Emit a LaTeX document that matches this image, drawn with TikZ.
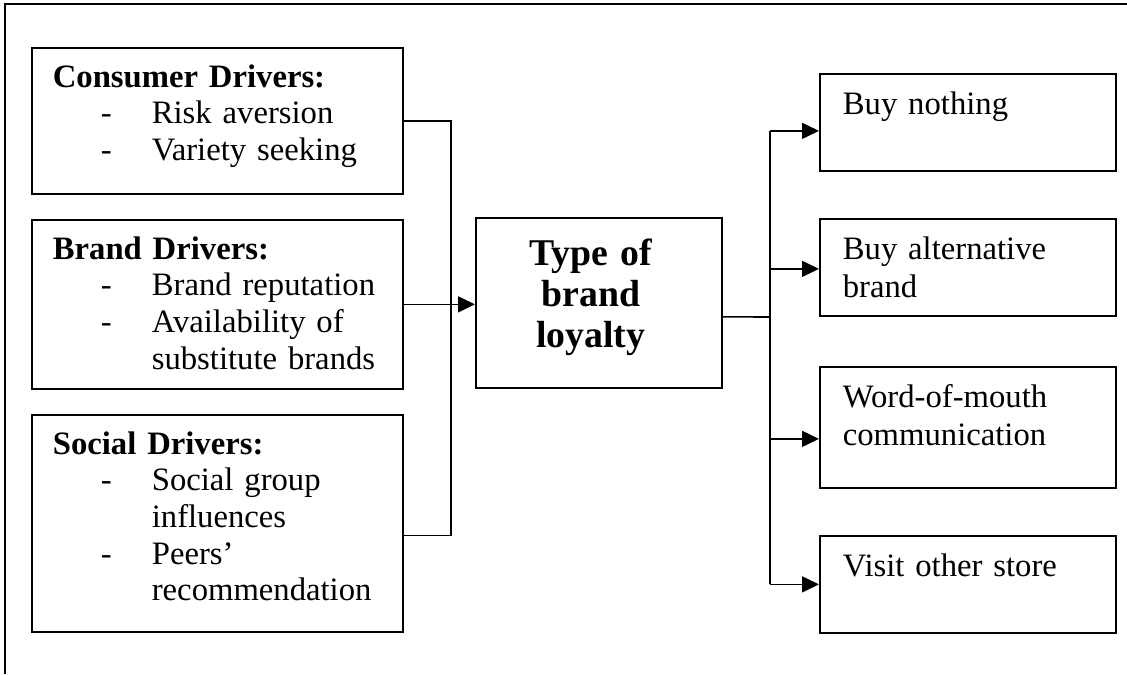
\documentclass[tikz,border=0pt]{standalone}
\usepackage{fontspec}
\setmainfont{Liberation Serif}
\usetikzlibrary{positioning}
\usetikzlibrary{arrows.meta}
\newcommand{\dashitem}{\hspace*{0.96cm}\makebox[1.02cm][l]{-}}
\newcommand{\moreline}{\hspace*{1.98cm}}
\newcommand{\leftish}{\hspace*{-0.32cm}}
\tikzset{
boxbase/.style={ % plain framed text box
draw, line width=1pt, anchor=north west, inner ysep=0pt},
driver/.style={boxbase, inner xsep=0.42cm, text width=6.58cm, align=left,
font=\fontsize{18.6}{20.8}\selectfont, text height=0.79cm, text depth=#1},
outcome/.style={boxbase, inner xsep=0.46cm, text width=5cm, align=left,
font=\fontsize{18.6}{21.6}\selectfont, text height=0.81cm, text depth=#1},
conn/.style={line width=0.9pt},
arr/.style={conn, -{Triangle[length=0.34cm,width=0.32cm]}}}

\begin{document}
\begin{tikzpicture}[x=0.02cm, y=-0.02cm]
\useasboundingbox (0,0) rectangle (1127,674);
\draw[line width=0.6pt] (5,674) -- (5,4) -- (1127,4);

% drivers
\node[driver=2.13cm] (cons) at (31,47) {\textbf{Consumer Drivers:}\\
\dashitem Risk aversion\\
\dashitem Variety seeking};
\node[driver=2.59cm] (brand) at (31,219) {\textbf{Brand Drivers:}\\
\dashitem Brand reputation\\
\dashitem Availability of\\
\moreline substitute brands};
\node[driver=3.55cm] (social) at (31,414) {\textbf{Social Drivers:}\\
\dashitem Social group\\
\moreline influences\\
\dashitem Peers’\\
\moreline recommendation};

\node[boxbase, inner xsep=0pt, text width=4.92cm, align=center,
font=\bfseries\fontsize{21.5}{23.3}\selectfont,
text height=0.96cm, text depth=2.44cm] (type) at (475,217)
{\leftish Type of\\ \leftish brand\\ \leftish loyalty};

% outcomes
\node[outcome=1.13cm] (out1) at (819,73) {Buy nothing};
\node[outcome=1.13cm] (out2) at (819,218) {Buy alternative\\ brand};
\node[outcome=1.61cm] (out3) at (819,366) {Word-of-mouth\\ communication};
\node[outcome=1.13cm] (out4) at (819,535) {Visit other store};

\coordinate (jl) at (451,300);
\coordinate (socout) at ([yshift=-0.24cm]social.east);
\draw[conn] (cons.east) -| (jl) |- (socout);
\draw[arr] (brand.east) -- (brand.east -| type.west);

\coordinate (jr) at (770,317);
\draw[conn] ([yshift=-0.28cm]type.east) -- (jr);
\foreach \n/\s in {out1/0.17, out2/0.03, out3/0.23, out4/0}
  \coordinate (\n-in) at ([yshift=-\s cm]\n.west);
\draw[conn] (jr |- out1-in) -- (jr |- out4-in);
\foreach \n in {out1, out2, out3, out4}
  \draw[arr] (jr |- \n-in) -- (\n-in);
\end{tikzpicture}
\end{document}
